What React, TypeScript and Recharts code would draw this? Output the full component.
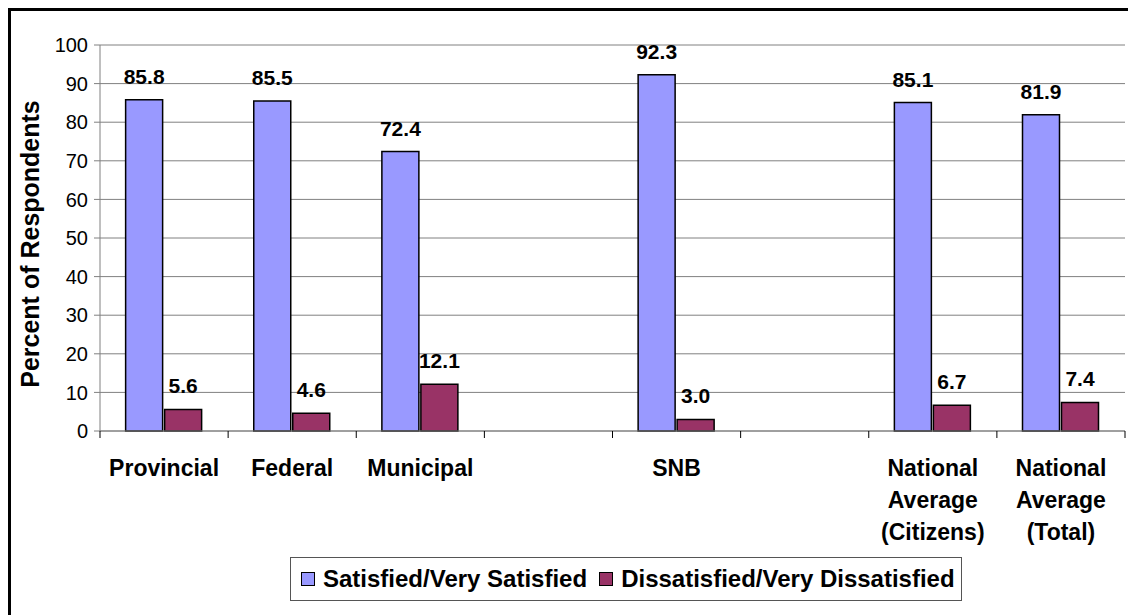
import React from "react";
import {
  BarChart,
  Bar,
  XAxis,
  YAxis,
  CartesianGrid,
  Legend,
  LabelList,
} from "recharts";

const categories = [
  "Provincial",
  "Federal",
  "Municipal",
  "",
  "SNB",
  "",
  "National Average (Citizens)",
  "National Average (Total)",
];
const satisfied = [85.8, 85.5, 72.4, null, 92.3, null, 85.1, 81.9];
const dissatisfied = [5.6, 4.6, 12.1, null, 3.0, null, 6.7, 7.4];
const yTicks = [0, 10, 20, 30, 40, 50, 60, 70, 80, 90, 100];

const data = categories.map((name, i) => ({
  name,
  satisfied: satisfied[i],
  dissatisfied: dissatisfied[i],
}));

const FONT = "'Liberation Sans', Arial, sans-serif";
const W = 1128;
const H = 607;
const margin = { top: 37, right: 11, left: 32, bottom: 0 };
const Y_W = 60;
const PLOT_W = W - margin.left - margin.right - Y_W;
const HALF_BAND = PLOT_W / categories.length / 2;

// splits the long category names like the original (one word a line)
const wrapName = (name: string) => {
  if (name.startsWith("National Average")) {
    return ["National", "Average", name.replace("National Average ", "")];
  }
  return name ? [name] : [];
};

const CategoryTick = (props: any) => {
  const { x, y, payload, index } = props;
  const lines = wrapName(payload.value);
  return (
    <g>
      <line x1={x - HALF_BAND} x2={x - HALF_BAND} y1={y} y2={y + 7} stroke="#000" />
      {index === categories.length - 1 && (
        <line x1={x + HALF_BAND} x2={x + HALF_BAND} y1={y} y2={y + 7} stroke="#000" />
      )}
      <text
        x={x}
        y={y + 45}
        textAnchor="middle"
        fontFamily={FONT}
        fontWeight="bold"
        fontSize={23}
        fill="#000"
      >
        {lines.map((l, i) => (
          <tspan key={i} x={x} dy={i === 0 ? 0 : 32}>
            {l}
          </tspan>
        ))}
      </text>
    </g>
  );
};

const YTitle = (props: any) => {
  const vb = props.viewBox || {};
  const cx = 22;
  const cy = vb.y + vb.height / 2 + 6;
  return (
    <text
      x={cx}
      y={cy}
      transform={`rotate(-90 ${cx} ${cy})`}
      textAnchor="middle"
      dominantBaseline="central"
      fontFamily={FONT}
      fontWeight="bold"
      fontSize={25}
      fill="#000"
    >
      Percent of Respondents
    </text>
  );
};

const ValueLabel = (props: any) => {
  const { x, y, width, value } = props;
  if (value == null) return null;
  return (
    <text
      x={x + width / 2}
      y={y - 16}
      textAnchor="middle"
      fontFamily={FONT}
      fontWeight="bold"
      fontSize={21}
      fill="#000"
    >
      {Number(value).toFixed(1)}
    </text>
  );
};

const legendItems = [
  { label: "Satisfied/Very Satisfied", color: "#9999FF" },
  { label: "Dissatisfied/Very Dissatisfied", color: "#993366" },
];

const LegendBox = () => (
  <div
    style={{
      border: "1px solid #555",
      height: 44,
      boxSizing: "border-box",
      display: "flex",
      alignItems: "center",
      paddingLeft: 10,
      fontFamily: FONT,
      fontWeight: "bold",
      fontSize: 24,
      color: "#000",
      background: "#fff",
      whiteSpace: "nowrap",
    }}
  >
    {legendItems.map((it) => (
      <span key={it.label} style={{ display: "flex", alignItems: "center", marginRight: 12 }}>
        <span
          style={{
            width: 12,
            height: 12,
            background: it.color,
            border: "1.5px solid #000",
            marginRight: 8,
            display: "inline-block",
          }}
        />
        {it.label}
      </span>
    ))}
  </div>
);

export default function App() {
  return (
    <div
      style={{
        position: "relative",
        width: W,
        height: H,
        overflow: "hidden",
        background: "#fff",
      }}
    >
      <div
        style={{
          position: "absolute",
          left: 0,
          top: 0,
          width: W + 100,
          height: H + 100,
          border: "3px solid #000",
          boxSizing: "border-box",
        }}
      />
      <BarChart
        width={W}
        height={H}
        data={data}
        margin={margin}
        barCategoryGap="20%"
        barGap={2}
      >
        <CartesianGrid horizontal vertical={false} stroke="#808080" />
        <XAxis
          dataKey="name"
          interval={0}
          height={184}
          tickLine={false}
          tickSize={0}
          tickMargin={0}
          axisLine={{ stroke: "#808080" }}
          tick={<CategoryTick />}
        />
        <YAxis
          width={Y_W}
          domain={[0, 100]}
          ticks={yTicks}
          interval={0}
          tickSize={6}
          tickMargin={6}
          axisLine={{ stroke: "#808080" }}
          tickLine={{ stroke: "#808080" }}
          tick={{ fontFamily: FONT, fontSize: 20, fill: "#000" }}
          label={<YTitle />}
        />
        <Legend
          layout="horizontal"
          verticalAlign="middle"
          align="center"
          wrapperStyle={{ position: "absolute", left: 282, top: 549, width: 672, height: 44 }}
          content={() => <LegendBox />}
        />
        <Bar
          dataKey="satisfied"
          name="Satisfied/Very Satisfied"
          fill="#9999FF"
          stroke="#000"
          strokeWidth={1.5}
          isAnimationActive={false}
        >
          <LabelList dataKey="satisfied" content={<ValueLabel />} />
        </Bar>
        <Bar
          dataKey="dissatisfied"
          name="Dissatisfied/Very Dissatisfied"
          fill="#993366"
          stroke="#000"
          strokeWidth={1.5}
          isAnimationActive={false}
        >
          <LabelList dataKey="dissatisfied" content={<ValueLabel />} />
        </Bar>
      </BarChart>
    </div>
  );
}
